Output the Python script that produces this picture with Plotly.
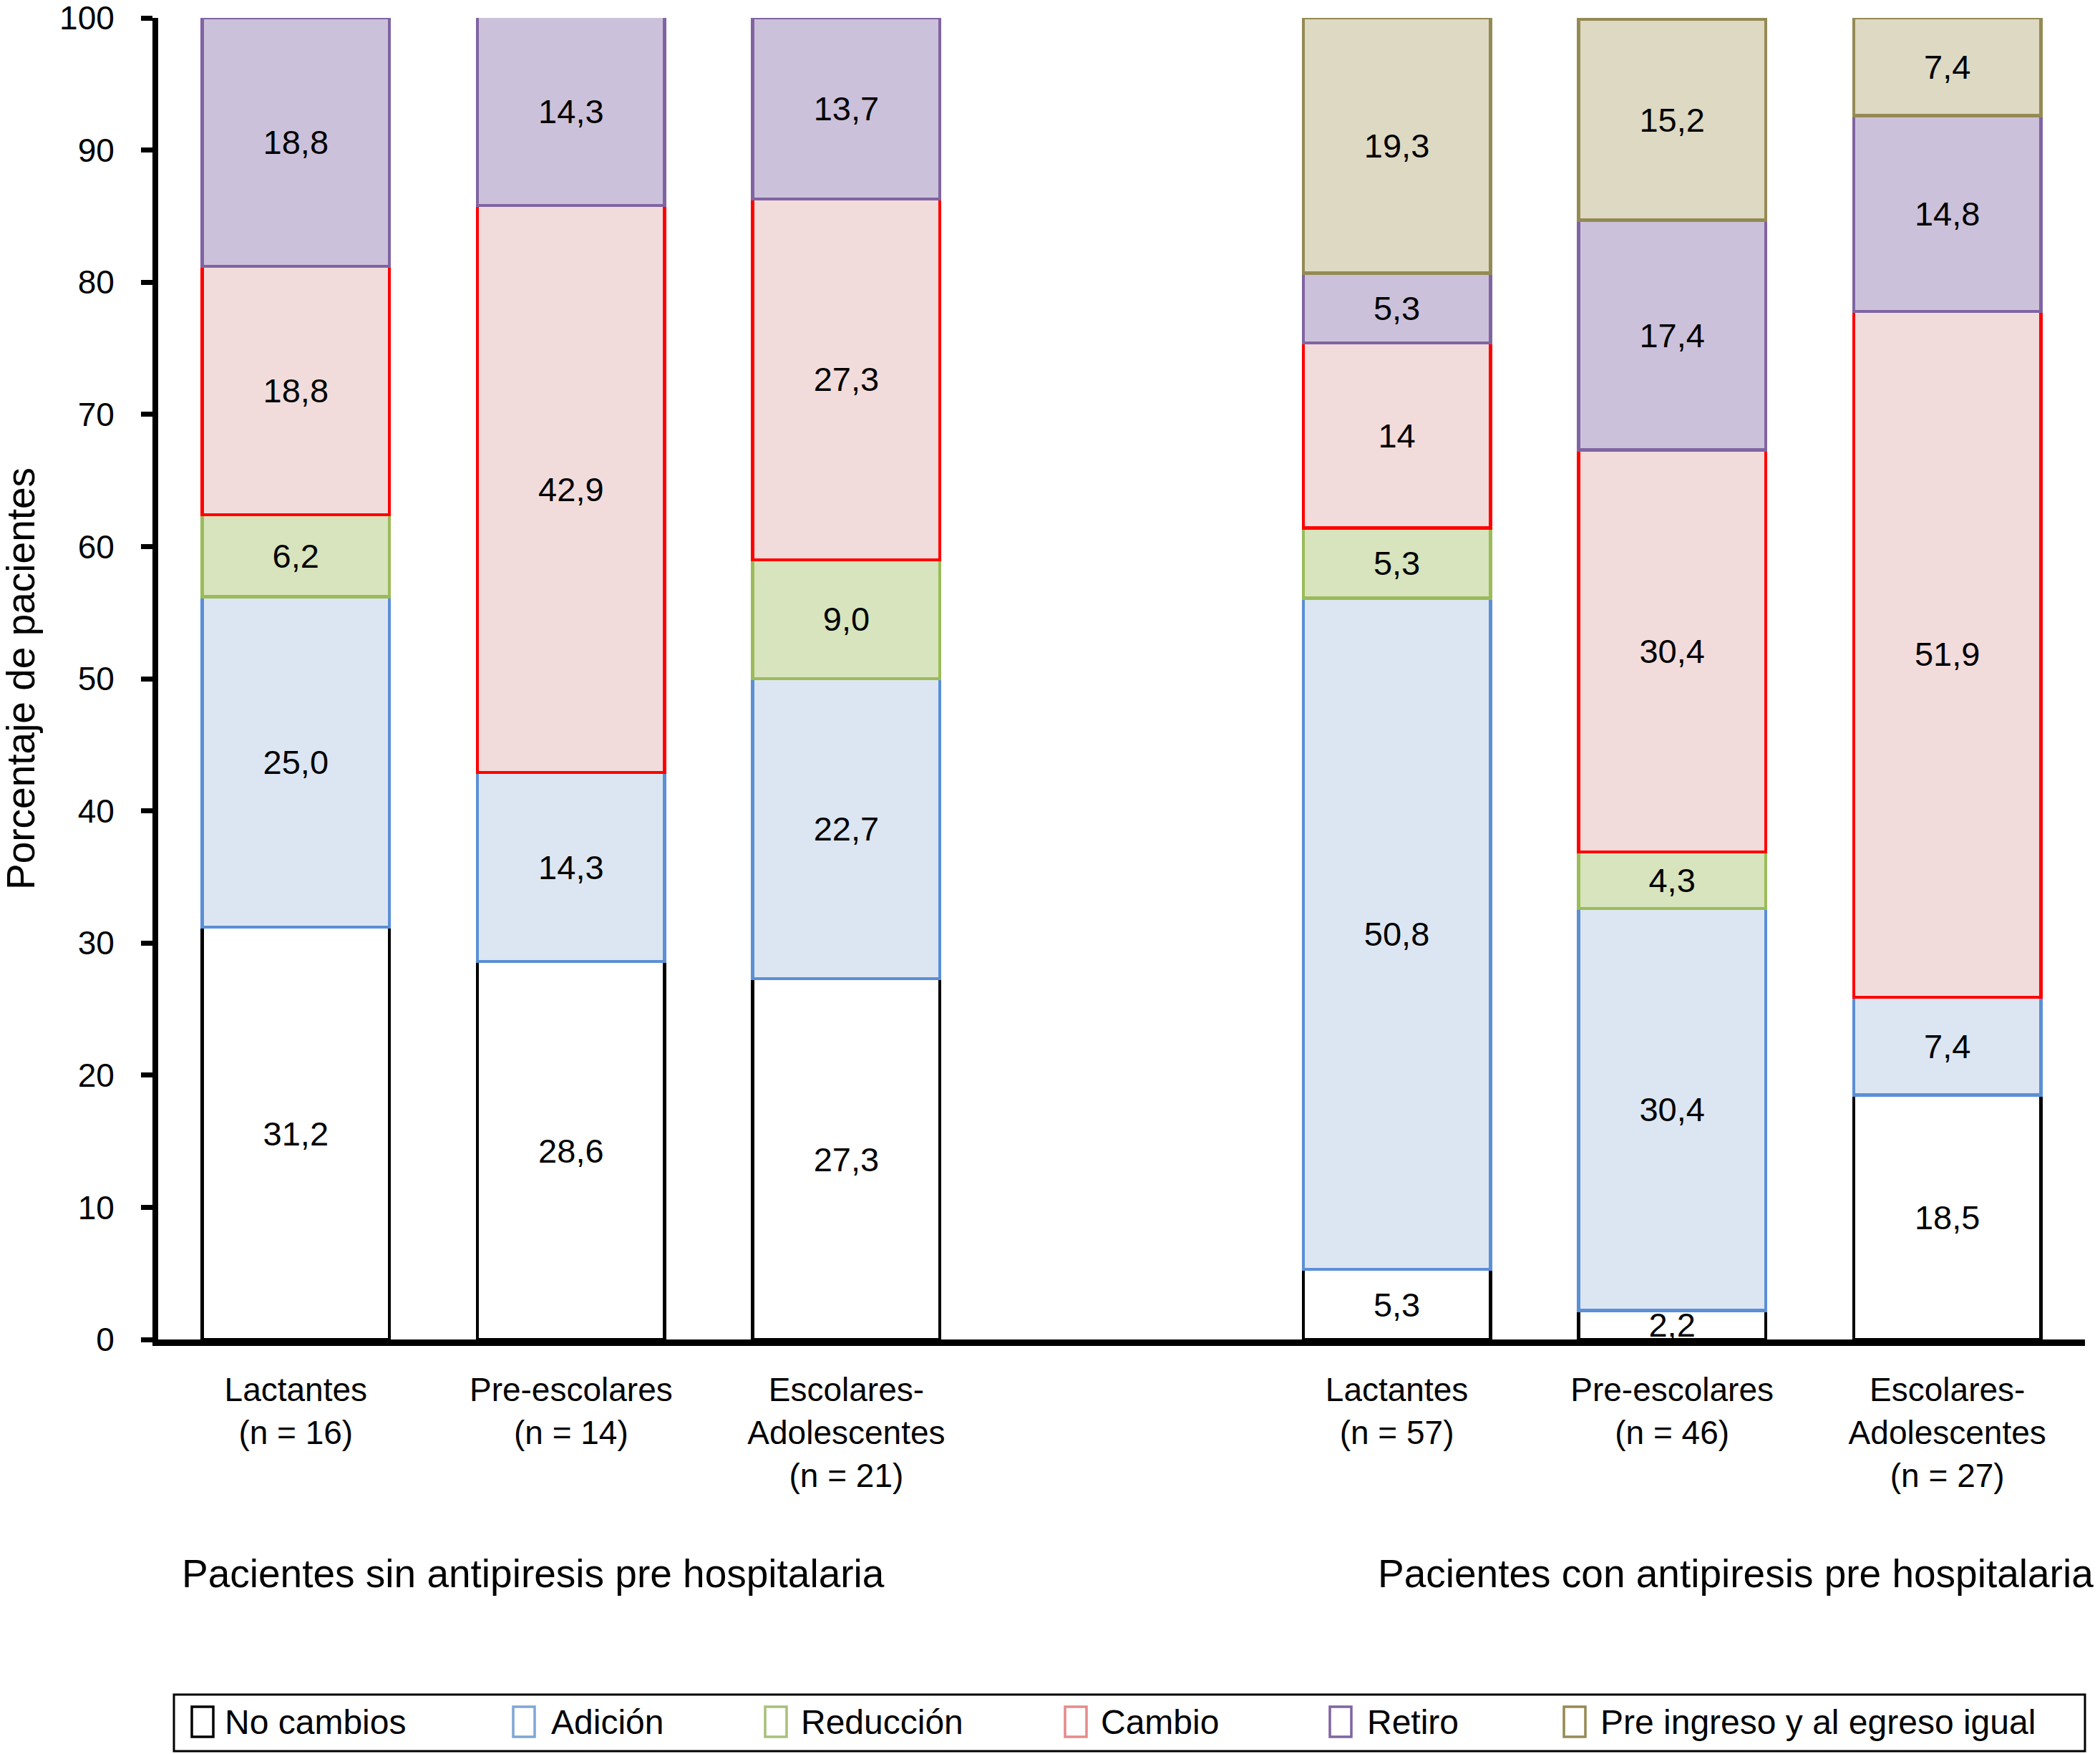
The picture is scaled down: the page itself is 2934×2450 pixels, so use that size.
import plotly.graph_objects as go

# ---------------- data ----------------
categories = ["Lactantes", "Pre-escolares", "Escolares-<br>Adolescentes",
              "Lactantes", "Pre-escolares", "Escolares-<br>Adolescentes"]
n_counts = [16, 14, 21, 57, 46, 27]
x_pos = [0, 1, 2, 4, 5, 6]

series_names = ["No cambios", "Adición", "Reducción", "Cambio", "Retiro",
                "Pre ingreso y al egreso igual"]
no_cambios = [31.2, 28.6, 27.3, 5.3, 2.2, 18.5]
adicion = [25.0, 14.3, 22.7, 50.8, 30.4, 7.4]
reduccion = [6.2, None, 9.0, 5.3, 4.3, None]
cambio = [18.8, 42.9, 27.3, 14, 30.4, 51.9]
retiro = [18.8, 14.3, 13.7, 5.3, 17.4, 14.8]
pre_ingreso = [None, None, None, 19.3, 15.2, 7.4]

group_labels = ["Pacientes sin antipiresis pre hospitalaria",
                "Pacientes con antipiresis pre hospitalaria"]
y_ticks = [0, 10, 20, 30, 40, 50, 60, 70, 80, 90, 100]

# ---------------- styles / layout ----------------
FONT = "Liberation Sans, Arial, Helvetica, sans-serif"
fills = ["#ffffff", "#dce6f2", "#d7e4bd", "#f2dcdb", "#ccc1da", "#ddd9c3"]
borders = ["#000000", "#5b8fd6", "#9bbb59", "#ff0000", "#8064a2", "#948a54"]
legend_borders = ["#000000", "#7fa6d4", "#a7c07a", "#e68a8a", "#8064a2", "#948a54"]

OFF = 8                      # browser body margin
PAGE_W, PAGE_H = 2934, 2450
W, H = PAGE_W - OFF, PAGE_H - OFF
# plot area in page pixels
PL, PR, PT, PB = 221, 2913, 25, 1871


def xp(px):
    return (px - PL) / (PR - PL)


def yp(py):
    return (PB - py) / (PB - PT)


# legend layout (page pixels): symbol left edge, text left edge
legend_symbol_left = [268, 717, 1069, 1488, 1858, 2185]
legend_text_left = [312, 768, 1117, 1536, 1908, 2234]
LEG_BOX = (243, 2367, 2913, 2446)
LEG_CY = 2405
SYM_W, SYM_H = 30, 42

all_series = [no_cambios, adicion, reduccion, cambio, retiro, pre_ingreso]


def fmt(v):
    if v is None:
        return ""
    return str(v).replace(".", ",")


fig = go.Figure()
for name, vals, fc, bc in zip(series_names, all_series, fills, borders):
    fig.add_trace(go.Bar(
        x=x_pos, y=vals, name=name, width=0.68,
        marker=dict(color=fc, line=dict(color=bc, width=4.5)),
        text=[fmt(v) for v in vals],
        textposition="inside", insidetextanchor="middle",
        constraintext="none",
        textfont=dict(family=FONT, size=47, color="black"),
        showlegend=False, hoverinfo="skip",
    ))

tick_text = [f"{c}<br>(n = {n})" for c, n in zip(categories, n_counts)]

fig.update_layout(
    width=W, height=H,
    margin=dict(l=PL - OFF, r=PAGE_W - PR, t=PT - OFF, b=PAGE_H - PB),
    barmode="stack",
    paper_bgcolor="white", plot_bgcolor="white",
    font=dict(family=FONT, size=46, color="black"),
    showlegend=False,
    xaxis=dict(
        range=[-0.5, 6.5], tickmode="array", tickvals=x_pos, ticktext=tick_text,
        showline=True, linecolor="black", linewidth=9, ticks="",
        showgrid=False, zeroline=False, automargin=False,
        tickfont=dict(family=FONT, size=46, color="black"),
        ticklabelstandoff=22,
    ),
    yaxis=dict(
        range=[0, 100], tickmode="array", tickvals=y_ticks,
        showline=True, linecolor="black", linewidth=8,
        ticks="outside", ticklen=16, tickwidth=7, tickcolor="black",
        showgrid=False, zeroline=False, automargin=False,
        ticklabeloverflow="allow",
        tickfont=dict(family=FONT, size=46, color="black"),
        ticklabelstandoff=28,
    ),
)

# axis title
fig.add_annotation(
    text="Porcentaje de pacientes", textangle=-90,
    xref="paper", x=xp(29), xanchor="center",
    yref="y", y=50, yanchor="middle", showarrow=False,
    font=dict(family=FONT, size=55, color="black"),
)
# group labels
fig.add_annotation(
    text=group_labels[0], xref="paper", x=xp(252), xanchor="left",
    yref="paper", y=yp(2198), yanchor="middle", showarrow=False,
    font=dict(family=FONT, size=55, color="black"),
)
fig.add_annotation(
    text=group_labels[1], xref="paper", x=xp(1923), xanchor="left",
    yref="paper", y=yp(2198), yanchor="middle", showarrow=False,
    font=dict(family=FONT, size=55, color="black"),
)

# legend box
fig.add_shape(type="rect", xref="paper", yref="paper",
              x0=xp(LEG_BOX[0]), x1=xp(LEG_BOX[2]),
              y0=yp(LEG_BOX[3]), y1=yp(LEG_BOX[1]),
              line=dict(color="black", width=3), fillcolor="white", layer="below")
for name, lc, sx, tx in zip(series_names, legend_borders,
                            legend_symbol_left, legend_text_left):
    fig.add_shape(type="rect", xref="paper", yref="paper",
                  x0=xp(sx), x1=xp(sx + SYM_W),
                  y0=yp(LEG_CY + SYM_H / 2), y1=yp(LEG_CY - SYM_H / 2),
                  line=dict(color=lc, width=3.5), fillcolor="white")
    fig.add_annotation(
        text=name, xref="paper", x=xp(tx), xanchor="left",
        yref="paper", y=yp(LEG_CY), yanchor="middle", showarrow=False,
        font=dict(family=FONT, size=48, color="black"),
    )

fig.write_html("out.html")
